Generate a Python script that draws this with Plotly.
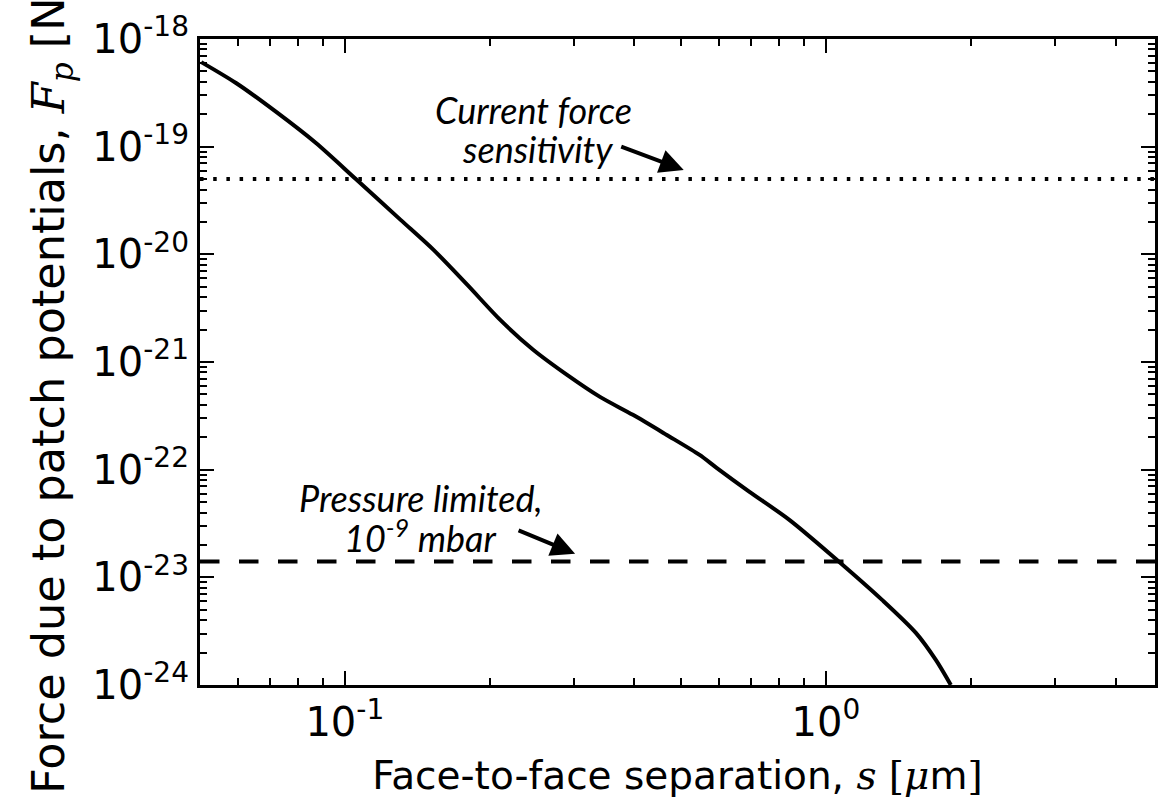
import plotly.graph_objects as go
import math

# Data
separation_um = [0.0503, 0.0594, 0.0720, 0.0871, 0.1054, 0.1306, 0.1529, 0.1798, 0.2104,
                 0.2463, 0.2897, 0.3391, 0.3970, 0.4669, 0.5462, 0.5925, 0.6936, 0.8393,
                 1.066, 1.308, 1.538, 1.692, 1.818]
force_N = [6.1e-19, 3.90e-19, 2.10e-19, 1.08e-19, 5.0e-20, 2.09e-20, 1.10e-20, 5.20e-21, 2.46e-21,
           1.30e-21, 7.59e-22, 4.74e-22, 3.23e-22, 2.10e-22, 1.37e-22, 1.04e-22, 6.22e-23, 3.42e-23,
           1.39e-23, 6.18e-24, 3.05e-24, 1.71e-24, 1.0e-24]

x_range = [0.05, 4.83]
y_range = [1e-24, 1e-18]
sensitivity_N = 5e-20
pressure_limit_N = 1.4e-23

x_tickvals = [0.1, 1]
x_ticktext = ["10<sup>-1</sup>", "10<sup>0</sup>"]
y_tickvals = [1e-24, 1e-23, 1e-22, 1e-21, 1e-20, 1e-19, 1e-18]
y_ticktext = ["10<sup>-24</sup>", "10<sup>-23</sup>", "10<sup>-22</sup>", "10<sup>-21</sup>",
              "10<sup>-20</sup>", "10<sup>-19</sup>", "10<sup>-18</sup>"]

x_minor = [m * 10.0 ** e for e in (-2, -1, 0) for m in range(2, 10)]
y_minor = [m * 10.0 ** e for e in range(-24, -18) for m in range(2, 10)]

fig = go.Figure()
fig.add_trace(go.Scatter(x=x_range, y=[sensitivity_N, sensitivity_N], mode="lines",
                         line=dict(color="black", width=4, dash="3.5px,9.7px"), hoverinfo="skip"))
fig.add_trace(go.Scatter(x=x_range, y=[pressure_limit_N, pressure_limit_N], mode="lines",
                         line=dict(color="black", width=4, dash="19.5px,19.5px"), hoverinfo="skip"))
fig.add_trace(go.Scatter(x=separation_um, y=force_N, mode="lines",
                         line=dict(color="black", width=4, shape="spline", smoothing=0.8),
                         hoverinfo="skip"))

tickfont = dict(family="DejaVu Sans", size=40, color="black")
common = dict(type="log", showline=True, linewidth=3, linecolor="black", mirror="ticks",
              ticks="inside", ticklen=14, tickwidth=1.5, tickcolor="black",
              showgrid=False, zeroline=False, tickfont=tickfont)

serif = "font-family:'DejaVu Serif'"
fig.update_xaxes(range=[math.log10(x_range[0]), math.log10(x_range[1])],
                 tickvals=x_tickvals, ticktext=x_ticktext,
                 minor=dict(tickmode="array", tickvals=x_minor, ticks="inside", ticklen=7,
                            tickwidth=1.5, tickcolor="black", showgrid=False),
                 title=dict(text=f"Face-to-face separation, <span style=\"{serif}\"><i>s</i> [<i>μ</i></span>m<span style=\"{serif}\">]</span>",
                            font=dict(family="DejaVu Sans", size=39, color="black"), standoff=18),
                 **common)
fig.update_yaxes(range=[math.log10(y_range[0]), math.log10(y_range[1])],
                 tickvals=y_tickvals, ticktext=y_ticktext,
                 minor=dict(tickmode="array", tickvals=y_minor, ticks="inside", ticklen=7,
                            tickwidth=1.5, tickcolor="black", showgrid=False),
                 **common)

# y-axis title (placed as rotated text, extends past the top edge as in the reference)
fig.add_annotation(x=-0.1563, y=0.4613, xref="paper", yref="paper", xanchor="center", yanchor="middle",
                   textangle=-90, showarrow=False,
                   text=f"Force due to patch potentials, <span style=\"{serif}\"><i>F<sub>p</sub></i></span> [N]",
                   font=dict(family="DejaVu Sans", size=44.5, color="black"))

annfont = dict(family="Lato", size=36, color="black")
for txt, xl, yl in [("<i>Current force</i>", -0.6085, -18.66),
                    ("<i>sensitivity</i>", -0.6002, -19.02),
                    ("<i>Pressure limited,</i>", -0.8426, -22.26),
                    ("<i>10<sup>-9</sup> mbar</i>", -0.8447, -22.62)]:
    fig.add_annotation(x=xl, y=yl, xref="x", yref="y", showarrow=False, text=txt, font=annfont,
                       xanchor="center", yanchor="middle", borderpad=0)

fig.add_annotation(x=-0.2956, y=-19.2163, xref="x", yref="y", ax=-64, ay=-24, text="",
                   showarrow=True, arrowhead=2, arrowwidth=4, arrowsize=1.2, arrowcolor="black")
fig.add_annotation(x=-0.5214, y=-22.7818, xref="x", yref="y", ax=-58, ay=-24, text="",
                   showarrow=True, arrowhead=2, arrowwidth=4, arrowsize=1.2, arrowcolor="black")

fig.update_layout(width=1158, height=810, margin=dict(l=200, r=0, t=39, b=125),
                  paper_bgcolor="white", plot_bgcolor="white", showlegend=False)

fig.write_html("out.html")
